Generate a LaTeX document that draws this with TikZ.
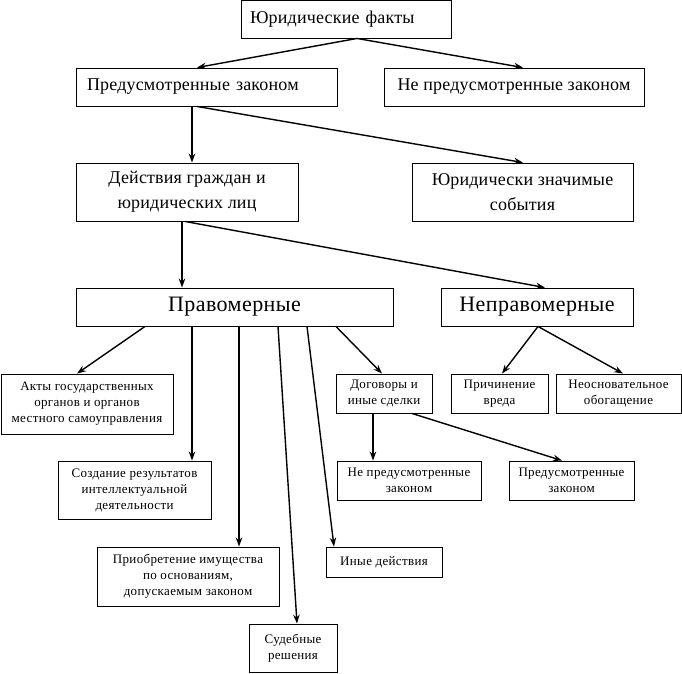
\documentclass[tikz,border=0pt]{standalone}
\usepackage{fontspec}
\setmainfont{Liberation Serif}
\newfontfamily\bigfont[LetterSpace=1]{Liberation Serif}
\newfontfamily\smallfont[LetterSpace=2.5]{Liberation Serif}
\newfontfamily\hugefont[LetterSpace=2]{Liberation Serif}
\usetikzlibrary{arrows.meta}
\begin{document}
\begin{tikzpicture}[x=1pt,y=-1pt,
  box/.style={draw,line width=0.9pt,rectangle,inner sep=0pt,align=center},
  big/.style={box,font=\bigfont\fontsize{18}{25}\selectfont},
  huge/.style={box,font=\hugefont\fontsize{22}{25}\selectfont},
  small/.style={box,font=\smallfont\fontsize{13}{16}\selectfont},
  arr/.style={line width=1.4pt,-{Stealth[length=9pt,width=6.5pt,inset=3pt]}}]
\useasboundingbox (0,0) rectangle (682,673);
\node[big,minimum width=210pt,minimum height=38pt,text width=192pt,align=left] (JF) at (346,19) {Юридические факты};
\node[big,minimum width=261pt,minimum height=38pt,text width=239pt,align=left] (Pred) at (206.5,87) {Предусмотренные законом};
\node[big,minimum width=260pt,minimum height=38pt] (NePred) at (514,87) {Не предусмотренные законом};
\node[big,minimum width=222pt,minimum height=58pt] (Deistv) at (187,192) {Действия граждан и\\юридических лиц};
\node[big,minimum width=221pt,minimum height=58pt] (Sobyt) at (522.5,192) {Юридически значимые\\события};
\node[huge,minimum width=317pt,minimum height=38pt] (Pravom) at (234.5,307) {Правомерные};
\node[huge,minimum width=192pt,minimum height=38pt] (Neprav) at (537,307) {Неправомерные};
\node[small,minimum width=172pt,minimum height=60pt] (Akty) at (87,404) {Акты государственных\\органов и органов\\местного самоуправления};
\node[small,minimum width=153pt,minimum height=58pt] (Sozd) at (134.5,490) {Создание результатов\\интеллектуальной\\деятельности};
\node[small,minimum width=182pt,minimum height=59pt] (Priobr) at (188,576.5) {Приобретение имущества\\по основаниям,\\допускаемым законом};
\node[small,minimum width=88pt,minimum height=48pt] (Sud) at (293,648) {Судебные\\решения};
\node[small,minimum width=116pt,minimum height=30pt] (Inye) at (384,562) {Иные действия};
\node[small,minimum width=96pt,minimum height=39pt] (Dog) at (384,393.5) {Договоры и\\иные сделки};
\node[small,minimum width=97pt,minimum height=39pt] (Prich) at (499.5,393.5) {Причинение\\вреда};
\node[small,minimum width=125pt,minimum height=39pt] (Neosn) at (618.5,393.5) {Неосновательное\\обогащение};
\node[small,minimum width=144pt,minimum height=39pt] (NePred2) at (409,480.5) {Не предусмотренные\\законом};
\node[small,minimum width=125pt,minimum height=39pt] (Pred2) at (571.5,480.5) {Предусмотренные\\законом};
\draw[arr] ([xshift=11pt]JF.south) -- ([xshift=-9.5pt]Pred.north);
\draw[arr] ([xshift=11pt]JF.south) -- ([xshift=9pt]NePred.north);
\draw[arr] ([xshift=-14.5pt]Pred.south) -- ([xshift=5pt]Deistv.north);
\draw[arr] ([xshift=-9.5pt]Pred.south) -- ([xshift=0.5pt]Sobyt.north);
\draw[arr] ([xshift=-5pt]Deistv.south) -- ([xshift=-52.5pt]Pravom.north);
\draw[arr] ([xshift=-2pt]Deistv.south) -- ([xshift=8pt]Neprav.north);
\draw[arr] ([xshift=-89.5pt]Pravom.south) -- ([xshift=-10pt]Akty.north);
\draw[arr] ([xshift=-42.5pt]Pravom.south) -- ([xshift=57.5pt]Sozd.north);
\draw[arr] ([xshift=4.5pt]Pravom.south) -- ([xshift=51pt]Priobr.north);
\draw[arr] ([xshift=43.5pt]Pravom.south) -- ([xshift=4pt]Sud.north);
\draw[arr] ([xshift=72.5pt]Pravom.south) -- ([xshift=-50pt]Inye.north);
\draw[arr] ([xshift=101.5pt]Pravom.south) -- ([xshift=-2pt]Dog.north);
\draw[arr] ([xshift=1pt]Neprav.south) -- ([xshift=2.5pt]Prich.north);
\draw[arr] ([xshift=1pt]Neprav.south) -- ([xshift=4.5pt]Neosn.north);
\draw[arr] ([xshift=-11pt]Dog.south) -- ([xshift=-36pt]NePred2.north);
\draw[arr] ([xshift=28pt]Dog.south) -- ([xshift=-9.5pt]Pred2.north);
\end{tikzpicture}
\end{document}
